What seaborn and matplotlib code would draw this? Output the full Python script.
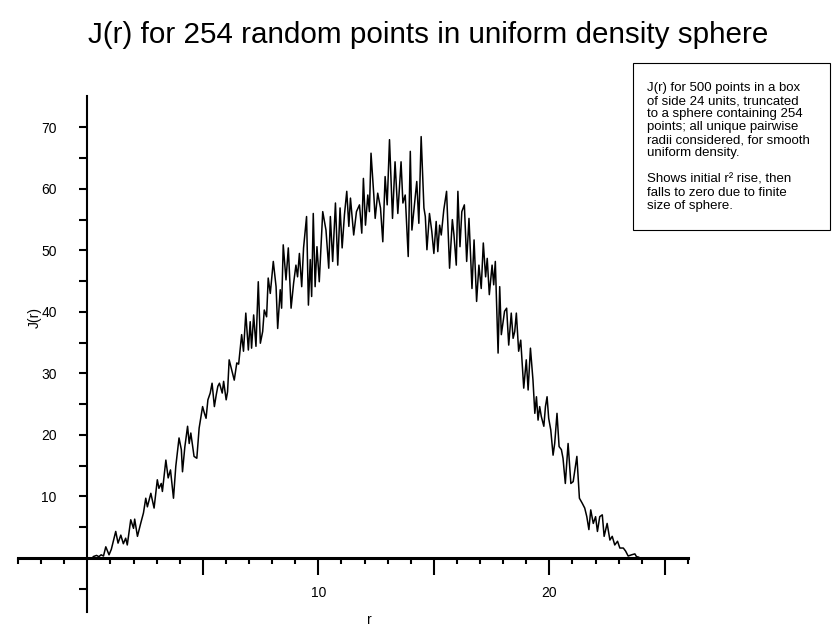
import numpy as np
import matplotlib
matplotlib.use("Agg")
import matplotlib.pyplot as plt
import seaborn as sns

# J(r) values
r_vals = [0.25, 0.4, 0.5, 0.6, 0.7, 0.8, 0.94, 1.04, 1.23, 1.33, 1.45, 1.56, 1.66, 1.73,
          1.88, 2.0, 2.05, 2.17, 2.31, 2.43, 2.53, 2.6, 2.75, 2.89, 3.03, 3.1, 3.2, 3.25,
          3.4, 3.5, 3.6, 3.73, 3.83, 3.97, 4.07, 4.12, 4.22, 4.34, 4.41, 4.48, 4.62, 4.74,
          4.84, 4.99, 5.07, 5.14, 5.22, 5.32, 5.4, 5.5, 5.58, 5.65, 5.72, 5.84, 5.9, 6.01,
          6.07, 6.14, 6.22, 6.36, 6.47, 6.55, 6.68, 6.76, 6.86, 6.97, 7.05, 7.11, 7.2, 7.3,
          7.4, 7.49, 7.59, 7.66, 7.76, 7.83, 7.92, 8.05, 8.17, 8.24, 8.35, 8.41, 8.48, 8.6,
          8.7, 8.82, 8.93, 9.03, 9.1, 9.18, 9.28, 9.36, 9.49, 9.57, 9.65, 9.71, 9.78, 9.86,
          9.94, 10.04, 10.19, 10.33, 10.45, 10.52, 10.62, 10.74, 10.84, 10.94, 11.03, 11.13,
          11.23, 11.32, 11.39, 11.53, 11.65, 11.78, 11.88, 11.95, 12.04, 12.14, 12.21, 12.28,
          12.4, 12.46, 12.57, 12.69, 12.79, 12.89, 12.98, 13.08, 13.21, 13.32, 13.44, 13.58,
          13.66, 13.76, 13.89, 13.98, 14.05, 14.16, 14.26, 14.35, 14.45, 14.57, 14.63, 14.7,
          14.81, 14.91, 15.0, 15.1, 15.17, 15.25, 15.32, 15.43, 15.55, 15.68, 15.8, 15.87,
          15.97, 16.04, 16.13, 16.21, 16.32, 16.42, 16.52, 16.65, 16.74, 16.85, 16.95, 17.05,
          17.14, 17.24, 17.31, 17.4, 17.52, 17.59, 17.66, 17.78, 17.85, 17.92, 18.06, 18.15,
          18.24, 18.35, 18.43, 18.5, 18.57, 18.67, 18.76, 18.89, 19.0, 19.08, 19.18, 19.29,
          19.37, 19.44, 19.51, 19.58, 19.65, 19.76, 19.83, 19.9, 19.97, 20.06, 20.16, 20.23,
          20.33, 20.42, 20.52, 20.59, 20.69, 20.81, 20.93, 21.03, 21.19, 21.3, 21.42, 21.53,
          21.62, 21.71, 21.79, 21.9, 22.0, 22.08, 22.18, 22.29, 22.37, 22.5, 22.62, 22.72,
          22.83, 22.95, 23.05, 23.2, 23.3, 23.41, 23.56, 23.7, 23.77, 23.88]
j_vals = [0.2, 0.4, 0.2, 0.5, 0.3, 1.8, 0.5, 1.4, 4.3, 2.4, 3.7, 2.3, 3.2, 2.1,
          6.2, 4.8, 6.3, 3.5, 5.6, 7.3, 9.7, 8.3, 10.5, 8.1, 12.7, 11.3, 12.1, 10.8,
          15.9, 13.0, 14.3, 9.7, 14.9, 19.5, 17.6, 14.0, 18.0, 21.4, 18.6, 20.3, 16.5, 16.2,
          21.1, 24.6, 23.5, 22.7, 25.7, 26.8, 28.4, 24.6, 26.5, 27.9, 28.4, 26.8, 28.7, 25.7,
          27.0, 32.2, 31.0, 28.9, 31.7, 31.5, 36.3, 33.6, 39.8, 33.8, 38.4, 34.1, 39.5, 34.4,
          44.9, 34.9, 36.8, 40.3, 39.2, 45.5, 43.0, 48.2, 44.1, 37.3, 43.6, 40.6, 50.9, 45.2,
          50.4, 40.6, 44.7, 47.6, 45.7, 49.5, 44.1, 50.4, 55.5, 41.1, 48.5, 42.5, 56.0, 44.1,
          50.6, 44.9, 56.3, 53.3, 47.1, 55.5, 48.2, 57.7, 47.6, 56.9, 50.4, 55.8,
          59.6, 53.9, 58.5, 52.5, 56.3, 57.4, 52.8, 61.7, 54.1, 59.0, 56.3, 65.8,
          59.0, 55.2, 59.3, 56.9, 51.4, 62.0, 57.4, 68.0, 55.2, 64.4, 56.0, 64.4,
          57.7, 59.0, 49.0, 66.1, 53.3, 57.4, 61.2, 54.4, 68.5, 56.9, 55.5, 50.1,
          56.0, 53.1, 49.5, 54.7, 49.8, 54.1, 52.5, 56.6, 59.6, 47.1, 55.0, 52.5,
          47.6, 59.6, 50.6, 56.3, 57.4, 48.2, 55.2, 43.8, 51.7, 41.7, 47.6, 43.8,
          51.2, 45.7, 48.7, 42.8, 47.6, 44.4, 48.2, 33.3, 44.1, 36.3, 40.1, 40.6,
          34.6, 39.8, 35.7, 36.8, 39.8, 33.6, 35.4, 27.6, 32.2, 27.3, 34.1, 28.9,
          23.5, 26.2, 22.4, 24.6, 23.0, 21.4, 24.6, 26.2, 22.7, 20.8, 16.7, 18.6,
          23.5, 18.1, 17.6, 16.2, 12.1, 18.6, 12.1, 12.4, 16.5, 9.7, 8.9, 8.1,
          6.7, 4.6, 7.8, 5.6, 6.7, 4.3, 6.7, 7.0, 3.5, 5.6, 2.9, 3.5,
          2.1, 2.7, 1.6, 1.6, 1.1, 0.3, 0.5, 0.65, 0.2, 0.1]

x_major = [5, 10, 15, 20, 25]
x_major_labels = ["", "10", "", "20", ""]
x_minor = [v for v in range(-3, 27) if v % 5 != 0]
y_major = [10, 20, 30, 40, 50, 60, 70]
y_minor = [-5, 5, 15, 25, 35, 45, 55, 65]

title = "J(r) for 254 random points in uniform density sphere"
note = ("J(r) for 500 points in a box\n"
        "of side 24 units, truncated\n"
        "to a sphere containing 254\n"
        "points; all unique pairwise\n"
        "radii considered, for smooth\n"
        "uniform density.\n"
        "\n"
        "Shows initial r\u00b2 rise, then\n"
        "falls to zero due to finite\n"
        "size of sphere.")

sns.set_style("ticks")
plt.rcParams['font.family'] = ['Liberation Sans', 'DejaVu Sans']
plt.rcParams['text.color'] = 'black'
plt.rcParams['axes.labelcolor'] = 'black'
plt.rcParams['xtick.color'] = 'black'
plt.rcParams['ytick.color'] = 'black'
plt.rcParams['axes.edgecolor'] = 'black'

fig = plt.figure(figsize=(8.33, 6.26), dpi=100)
ax = fig.add_axes([18 / 833, 14 / 626, 670 / 833, 516 / 626])

sns.lineplot(x=r_vals, y=j_vals, color="black", linewidth=1.1,
             estimator=None, sort=False, ax=ax)

ax.set_xlim(-3, 26)
ax.set_ylim(-8.8, 75.1)

# axes crossing at the origin
for side in ["top", "right"]:
    ax.spines[side].set_visible(False)
ax.spines["left"].set_position(("data", 0))
ax.spines["bottom"].set_position(("data", 0))
ax.spines["left"].set_linewidth(1.5)
ax.spines["bottom"].set_linewidth(2.2)

ax.set_xticks(x_major)
ax.set_xticklabels(x_major_labels)
ax.set_xticks(x_minor, minor=True)
ax.set_yticks(y_major)
ax.set_yticks(y_minor, minor=True)

ax.tick_params(axis="x", which="major", direction="out", bottom=True, length=12,
               width=1.5, pad=8, labelsize=10)
ax.tick_params(axis="x", which="minor", direction="out", bottom=True, length=4.5,
               width=1.5)
ax.tick_params(axis="y", which="both", direction="out", left=True, length=6,
               width=1.5, pad=16, labelsize=10)

ax.set_xlabel("r", fontsize=10)
ax.set_ylabel("J(r)", fontsize=10)
ax.xaxis.set_label_coords(0.525, -0.002)
ax.yaxis.set_label_coords(0.035, 0.57)

fig.text(0.514, 1 - 35 / 626, title, ha="center", va="center", fontsize=21.3)

fig.text(647 / 833, 1 - 82 / 626, note, ha="left", va="top", fontsize=9.5,
         linespacing=1.12)
# frame around the note
fig.patches.append(plt.Rectangle((633 / 833, 1 - 230 / 626), 197 / 833, 167 / 626,
                                 transform=fig.transFigure, fill=False,
                                 edgecolor="black", linewidth=0.8))

fig.savefig("out.png", dpi=100)
